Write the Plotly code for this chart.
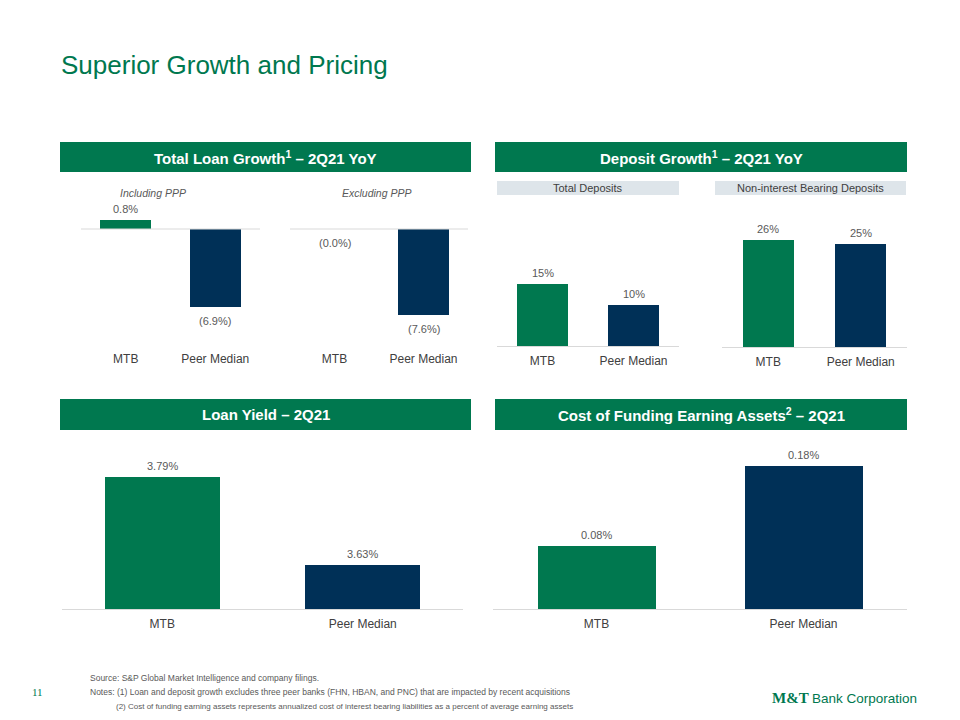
import plotly.graph_objects as go

# ---------------- data ----------------
categories = ["MTB", "Peer Median"]
loan_growth_incl_ppp = [0.8, -6.9]      # %
loan_growth_excl_ppp = [-0.02, -7.6]    # % (MTB shown as "(0.0%)")
total_deposit_growth = [15, 10]         # %
nib_deposit_growth = [26, 25]           # %
loan_yield = [3.79, 3.63]               # %
cost_of_funding = [0.08, 0.18]          # %

title_text = "Superior Growth and Pricing"
header_texts = ["Total Loan Growth<sup>1</sup> – 2Q21 YoY",
                "Deposit Growth<sup>1</sup> – 2Q21 YoY",
                "Loan Yield – 2Q21",
                "Cost of Funding Earning Assets<sup>2</sup> – 2Q21"]
sub_labels = ["Including PPP", "Excluding PPP"]
box_labels = ["Total Deposits", "Non-interest Bearing Deposits"]
footer_lines = [
    "Source: S&amp;P Global Market Intelligence and company filings.",
    "Notes: (1) Loan and deposit growth excludes three peer banks (FHN, HBAN, and PNC) that are impacted by recent acquisitions",
    "(2) Cost of funding earning assets represents annualized cost of interest bearing liabilities as a percent of average earning assets",
]
page_number = "11"

# ---------------- style ----------------
GREEN = "#00784F"
NAVY = "#003057"
LABEL_GRAY = "#595959"
CAT_GRAY = "#404040"
LINE_GRAY = "#D9D9D9"
BOX_GRAY = "#DEE5EA"
FONT = "Liberation Sans, Arial, sans-serif"
bar_colors = [GREEN, NAVY]

W, H = 960, 720
def px(x): return x / W
def py(y): return 1 - y / H

def fmt(v, dec):
    s = f"{abs(v):.{dec}f}%"
    return f"({s})" if v < 0 else s

# panel geometry: (values, decimals, x0, x1, top, bottom, baseline_px, px_per_unit, base_value, bar_width, line_mode)
panels = [
    (loan_growth_incl_ppp, 1, 81, 260, 200, 344, 229, 11.35, 0.0, 0.57, "zero"),
    (loan_growth_excl_ppp, 1, 290, 468, 200, 344, 229, 11.35, 0.0, 0.57, "zero"),
    (total_deposit_growth, 0, 497, 679, 200, 346, 346, 4.13, 0.0, 0.55, "bottom"),
    (nib_deposit_growth, 0, 722, 907, 200, 347, 347, 4.12, 0.0, 0.55, "bottom"),
    (loan_yield, 2, 62, 463, 440, 609, 609, 550.0, 3.55, 0.575, "bottom"),
    (cost_of_funding, 2, 493, 907, 440, 609, 609, 792.0, 0.0, 0.57, "bottom"),
]

fig = go.Figure()
annotations = []
shapes = []
layout_axes = {}

for i, (vals, dec, x0, x1, top, bottom, base_px, ppu, base_val, bw, mode) in enumerate(panels, start=1):
    xa = "x" if i == 1 else f"x{i}"
    ya = "y" if i == 1 else f"y{i}"
    # bars drawn at the displayed precision
    fig.add_trace(go.Bar(
        x=categories, y=[round(v, dec) for v in vals], xaxis=xa, yaxis=ya,
        marker=dict(color=bar_colors, line=dict(width=0)),
        width=bw, hoverinfo="skip", showlegend=False,
    ))
    ymax = base_val + (base_px - top) / ppu
    ymin = base_val - (bottom - base_px) / ppu
    xk = "xaxis" if i == 1 else f"xaxis{i}"
    yk = "yaxis" if i == 1 else f"yaxis{i}"
    layout_axes[xk] = dict(
        domain=[px(x0), px(x1)], anchor=ya, type="category",
        range=[-0.5, 1.5], showgrid=False, zeroline=False,
        showline=(mode == "bottom"), linecolor=LINE_GRAY, linewidth=1,
        ticks="outside", ticklen=4, tickcolor="rgba(0,0,0,0)",
        tickfont=dict(family=FONT, size=12, color=CAT_GRAY),
        fixedrange=True,
    )
    layout_axes[yk] = dict(
        domain=[py(bottom), py(top)], anchor=xa, range=[ymin, ymax],
        showgrid=False, showticklabels=False, showline=False, zeroline=False,
        fixedrange=True,
    )
    if mode == "zero":
        shapes.append(dict(type="line", xref=f"{xa} domain", yref=ya, x0=0, x1=1, y0=0, y1=0,
                           line=dict(color=LINE_GRAY, width=1), layer="above"))
    for c, v in zip(categories, vals):
        neg = v < 0
        annotations.append(dict(
            x=c, y=v, xref=xa, yref=ya, text=fmt(v, dec), showarrow=False,
            xanchor="center", yanchor="top" if neg else "bottom",
            yshift=-6 if neg else 3,
            font=dict(family=FONT, size=11, color=LABEL_GRAY),
        ))

# header bars
headers = [(60, 471, 142, 172), (495, 907, 142, 172), (60, 471, 399, 430), (495, 907, 399, 430)]
for (x0, x1, y0, y1), t in zip(headers, header_texts):
    shapes.append(dict(type="rect", xref="paper", yref="paper", x0=px(x0), x1=px(x1),
                       y0=py(y1), y1=py(y0), fillcolor=GREEN, line=dict(width=0), layer="below"))
    annotations.append(dict(x=px((x0 + x1) / 2), y=py((y0 + y1) / 2), xref="paper", yref="paper",
                            text=f"<b>{t}</b>", showarrow=False, xanchor="center", yanchor="middle",
                            font=dict(family=FONT, size=15, color="white")))

# light grey sub-boxes
boxes = [(497, 679, 181, 195), (715, 906, 181, 195)]
for (x0, x1, y0, y1), t in zip(boxes, box_labels):
    shapes.append(dict(type="rect", xref="paper", yref="paper", x0=px(x0), x1=px(x1),
                       y0=py(y1), y1=py(y0), fillcolor=BOX_GRAY, line=dict(width=0), layer="below"))
    annotations.append(dict(x=px((x0 + x1) / 2), y=py((y0 + y1) / 2), xref="paper", yref="paper",
                            text=t, showarrow=False, xanchor="center", yanchor="middle",
                            font=dict(family=FONT, size=11, color=CAT_GRAY)))

# italic sub-labels
for xc, t in zip([153, 376], sub_labels):
    annotations.append(dict(x=px(xc), y=py(193), xref="paper", yref="paper",
                            text=f"<i>{t}</i>", showarrow=False, xanchor="center", yanchor="middle",
                            font=dict(family=FONT, size=10.5, color=LABEL_GRAY)))

# title
annotations.append(dict(x=px(59), y=py(65), xref="paper", yref="paper", text=title_text,
                        showarrow=False, xanchor="left", yanchor="middle",
                        font=dict(family=FONT, size=26, color=GREEN)))

# footer
for (xl, yc, fs), t in zip([(88, 678, 8.5), (88, 692, 8.5), (114, 706, 8.0)], footer_lines):
    annotations.append(dict(x=px(xl), y=py(yc), xref="paper", yref="paper", text=t,
                            showarrow=False, xanchor="left", yanchor="middle",
                            font=dict(family=FONT, size=fs, color=LABEL_GRAY)))
annotations.append(dict(x=px(37), y=py(692), xref="paper", yref="paper", text=page_number,
                        showarrow=False, xanchor="center", yanchor="middle",
                        font=dict(family="Liberation Serif, Times New Roman, serif", size=11, color=GREEN)))

# logo text
annotations.append(dict(x=px(811), y=py(698), xref="paper", yref="paper", text="<b>M&amp;T</b>",
                        showarrow=False, xanchor="right", yanchor="middle",
                        font=dict(family="Liberation Serif, Times New Roman, serif", size=15, color=GREEN)))
annotations.append(dict(x=px(810), y=py(698), xref="paper", yref="paper", text="Bank Corporation",
                        showarrow=False, xanchor="left", yanchor="middle",
                        font=dict(family=FONT, size=13.5, color=GREEN)))

fig.update_layout(
    width=W, height=H, margin=dict(l=0, r=0, t=0, b=0),
    paper_bgcolor="white", plot_bgcolor="rgba(0,0,0,0)",
    showlegend=False, bargap=0, font=dict(family=FONT),
    shapes=shapes, annotations=annotations, **layout_axes,
)

fig.write_html("out.html")
